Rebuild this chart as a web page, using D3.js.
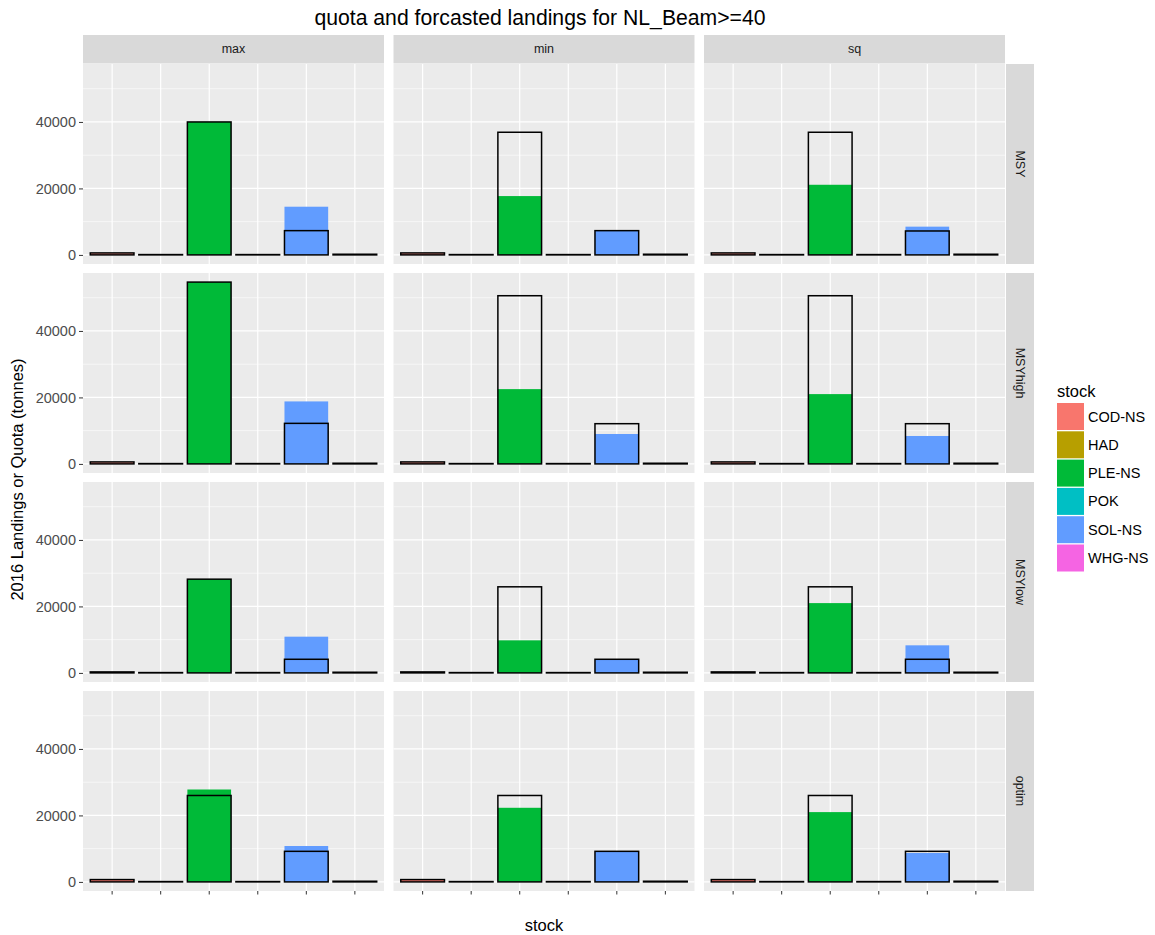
<!DOCTYPE html>
<html>
<head>
<meta charset="utf-8">
<script src="https://cdn.jsdelivr.net/npm/d3@7"></script>
<style>
    body { margin: 0; background: #fff; }
    svg text { font-family: "Liberation Sans", Arial, sans-serif; }
</style>
</head>
<body>
<div id="chart"></div>
<script>
// categories
const stocks = ["COD-NS", "HAD", "PLE-NS", "POK", "SOL-NS", "WHG-NS"];
const scenarios = ["max", "min", "sq"];
const hcrs = ["MSY", "MSYhigh", "MSYlow", "optim"];
const stockColors = ["#F8766D", "#B79F00", "#00BA38", "#00BFC4", "#619CFF", "#F564E3"];

// landings per hcr row: one inner array per scenario (max, min, sq), values per stock
const landingsMSY     = [[500, 0, 40000, 0, 14500, 100], [500, 0, 17700, 0, 7300, 100], [500, 0, 21100, 0, 8500, 100]];
const landingsMSYhigh = [[500, 0, 54700, 0, 18800, 100], [500, 0, 22500, 0, 9000, 100], [500, 0, 21000, 0, 8400, 100]];
const landingsMSYlow  = [[200, 0, 28200, 0, 10900, 100], [200, 0, 9800, 0, 4100, 100],  [200, 0, 21000, 0, 8300, 100]];
const landingsOptim   = [[600, 0, 27800, 0, 10800, 100], [600, 0, 22300, 0, 9200, 100], [600, 0, 21000, 0, 8700, 100]];

// quota per hcr row, same layout
const quotaMSY     = [[600, 100, 40000, 100, 7300, 200],  [600, 100, 36900, 100, 7300, 200],  [600, 100, 36900, 100, 7200, 200]];
const quotaMSYhigh = [[600, 100, 54700, 100, 12200, 200], [600, 100, 50600, 100, 12100, 200], [600, 100, 50600, 100, 12100, 200]];
const quotaMSYlow  = [[300, 100, 28200, 100, 4100, 200],  [300, 100, 25900, 100, 4100, 200],  [300, 100, 25900, 100, 4100, 200]];
const quotaOptim   = [[700, 100, 26000, 100, 9200, 200],  [700, 100, 26000, 100, 9200, 200],  [700, 100, 26000, 100, 9200, 200]];

const yTicks = [0, 20000, 40000];
const yMinor = [10000, 30000, 50000];

const landings = [landingsMSY, landingsMSYhigh, landingsMSYlow, landingsOptim];
const quota = [quotaMSY, quotaMSYhigh, quotaMSYlow, quotaOptim];

// layout
const width = 1155, height = 935;
const panelLeft = 83, panelTop = 64;
const pw = 301, ph = 200, gapX = 9.5, gapY = 9;
const stripH = 28.5, stripW = 28;

const svg = d3.select("#chart")
    .append("svg")
    .attr("width", width)
    .attr("height", height);

// scales shared by all panels (ggplot fixed scales)
const x = d3.scaleBand()
    .domain(stocks)
    .range([0, pw])
    .paddingInner(0.1)
    .paddingOuter(0.15);

const allValues = d3.merge(landings.concat(quota).map(function (r) { return d3.merge(r); }));
const yMax = d3.max(allValues);
const y = d3.scaleLinear()
    .domain([-0.05 * yMax, 1.05 * yMax])
    .range([ph, 0]);

// title
svg.append("text")
    .attr("x", 540)
    .attr("y", 25)
    .attr("text-anchor", "middle")
    .style("font-size", "21.2px")
    .style("fill", "#000")
    .text("quota and forcasted landings for NL_Beam>=40");

// column strips
scenarios.forEach(function (s, j) {
    const sx = panelLeft + j * (pw + gapX);
    svg.append("rect")
        .attr("x", sx).attr("y", panelTop - stripH - 0.5)
        .attr("width", pw).attr("height", stripH)
        .style("fill", "#D9D9D9");
    svg.append("text")
        .attr("x", sx + pw / 2).attr("y", panelTop - stripH / 2 + 3.5)
        .attr("text-anchor", "middle")
        .style("font-size", "12.5px")
        .style("fill", "#1A1A1A")
        .text(s);
});

// row strips
const stripX = panelLeft + 3 * pw + 2 * gapX + 1;
hcrs.forEach(function (h, i) {
    const sy = panelTop + i * (ph + gapY);
    svg.append("rect")
        .attr("x", stripX).attr("y", sy)
        .attr("width", stripW).attr("height", ph)
        .style("fill", "#D9D9D9");
    svg.append("text")
        .attr("transform", "translate(" + (stripX + stripW / 2 - 4) + "," + (sy + ph / 2) + ") rotate(90)")
        .attr("text-anchor", "middle")
        .style("font-size", "12.5px")
        .style("fill", "#1A1A1A")
        .text(h);
});

// panels
hcrs.forEach(function (h, i) {
    scenarios.forEach(function (s, j) {
        const g = svg.append("g")
            .attr("transform", "translate(" + (panelLeft + j * (pw + gapX)) + "," + (panelTop + i * (ph + gapY)) + ")");

        g.append("rect")
            .attr("width", pw).attr("height", ph)
            .style("fill", "#EBEBEB");

        // minor grid
        g.selectAll(".minor").data(yMinor).enter().append("line")
            .attr("x1", 0).attr("x2", pw)
            .attr("y1", function (d) { return y(d); })
            .attr("y2", function (d) { return y(d); })
            .style("stroke", "#fff").style("stroke-width", 0.6);

        // major grid
        g.selectAll(".major").data(yTicks).enter().append("line")
            .attr("x1", 0).attr("x2", pw)
            .attr("y1", function (d) { return y(d); })
            .attr("y2", function (d) { return y(d); })
            .style("stroke", "#fff").style("stroke-width", 1.2);

        g.selectAll(".vgrid").data(stocks).enter().append("line")
            .attr("x1", function (d) { return x(d) + x.bandwidth() / 2; })
            .attr("x2", function (d) { return x(d) + x.bandwidth() / 2; })
            .attr("y1", 0).attr("y2", ph)
            .style("stroke", "#fff").style("stroke-width", 1.2);

        // landings (filled)
        const land = landings[i][j];
        g.selectAll(".land").data(stocks).enter().append("rect")
            .attr("x", function (d) { return x(d); })
            .attr("width", x.bandwidth())
            .attr("y", function (d, k) { return y(land[k]); })
            .attr("height", function (d, k) { return y(0) - y(land[k]); })
            .style("fill", function (d, k) { return stockColors[k]; });

        // quota (outline only)
        const q = quota[i][j];
        g.selectAll(".quota").data(stocks).enter().append("rect")
            .attr("x", function (d) { return x(d); })
            .attr("width", x.bandwidth())
            .attr("y", function (d, k) { return y(q[k]); })
            .attr("height", function (d, k) { return y(0) - y(q[k]); })
            .style("fill", "none")
            .style("stroke", "#000")
            .style("stroke-width", 1.5);

        // y axis on first column
        if (j === 0) {
            const ya = g.append("g")
                .call(d3.axisLeft(y).tickValues(yTicks).tickSize(4).tickPadding(3).tickFormat(d3.format("d")));
            ya.select(".domain").remove();
            ya.selectAll(".tick line").style("stroke", "#333").style("stroke-width", 1);
            ya.selectAll(".tick text")
                .style("font-size", "14.5px")
                .style("fill", "#4D4D4D")
                .style("font-family", "'Liberation Sans', Arial, sans-serif");
        }

        // x ticks on bottom row, no labels
        if (i === hcrs.length - 1) {
            const xa = g.append("g")
                .attr("transform", "translate(0," + ph + ")")
                .call(d3.axisBottom(x).tickSize(3.5).tickFormat(""));
            xa.select(".domain").remove();
            xa.selectAll(".tick line").style("stroke", "#333").style("stroke-width", 1);
        }
    });
});

// axis titles
const plotMidX = panelLeft + (3 * pw + 2 * gapX) / 2;
svg.append("text")
    .attr("x", plotMidX)
    .attr("y", 931)
    .attr("text-anchor", "middle")
    .style("font-size", "16.5px")
    .style("fill", "#000")
    .text("stock");

const plotMidY = panelTop + (4 * ph + 3 * gapY) / 2;
svg.append("text")
    .attr("transform", "translate(23," + (plotMidY + 2) + ") rotate(-90)")
    .attr("text-anchor", "middle")
    .style("font-size", "16.5px")
    .style("fill", "#000")
    .text("2016 Landings or Quota (tonnes)");

// legend
const legend = svg.append("g").attr("transform", "translate(1057,0)");
legend.append("text")
    .attr("x", 0).attr("y", 397)
    .style("font-size", "16.5px")
    .style("fill", "#000")
    .text("stock");

const keyStep = 28.3;
legend.selectAll(".key").data(stocks).enter().append("rect")
    .attr("x", 0)
    .attr("y", function (d, k) { return 403 + k * keyStep; })
    .attr("width", 27).attr("height", 27)
    .style("fill", function (d, k) { return stockColors[k]; });

legend.selectAll(".lab").data(stocks).enter().append("text")
    .attr("x", 31)
    .attr("y", function (d, k) { return 403 + k * keyStep + 13.5 + 5; })
    .style("font-size", "14.5px")
    .style("fill", "#000")
    .text(function (d) { return d; });
</script>
</body>
</html>
